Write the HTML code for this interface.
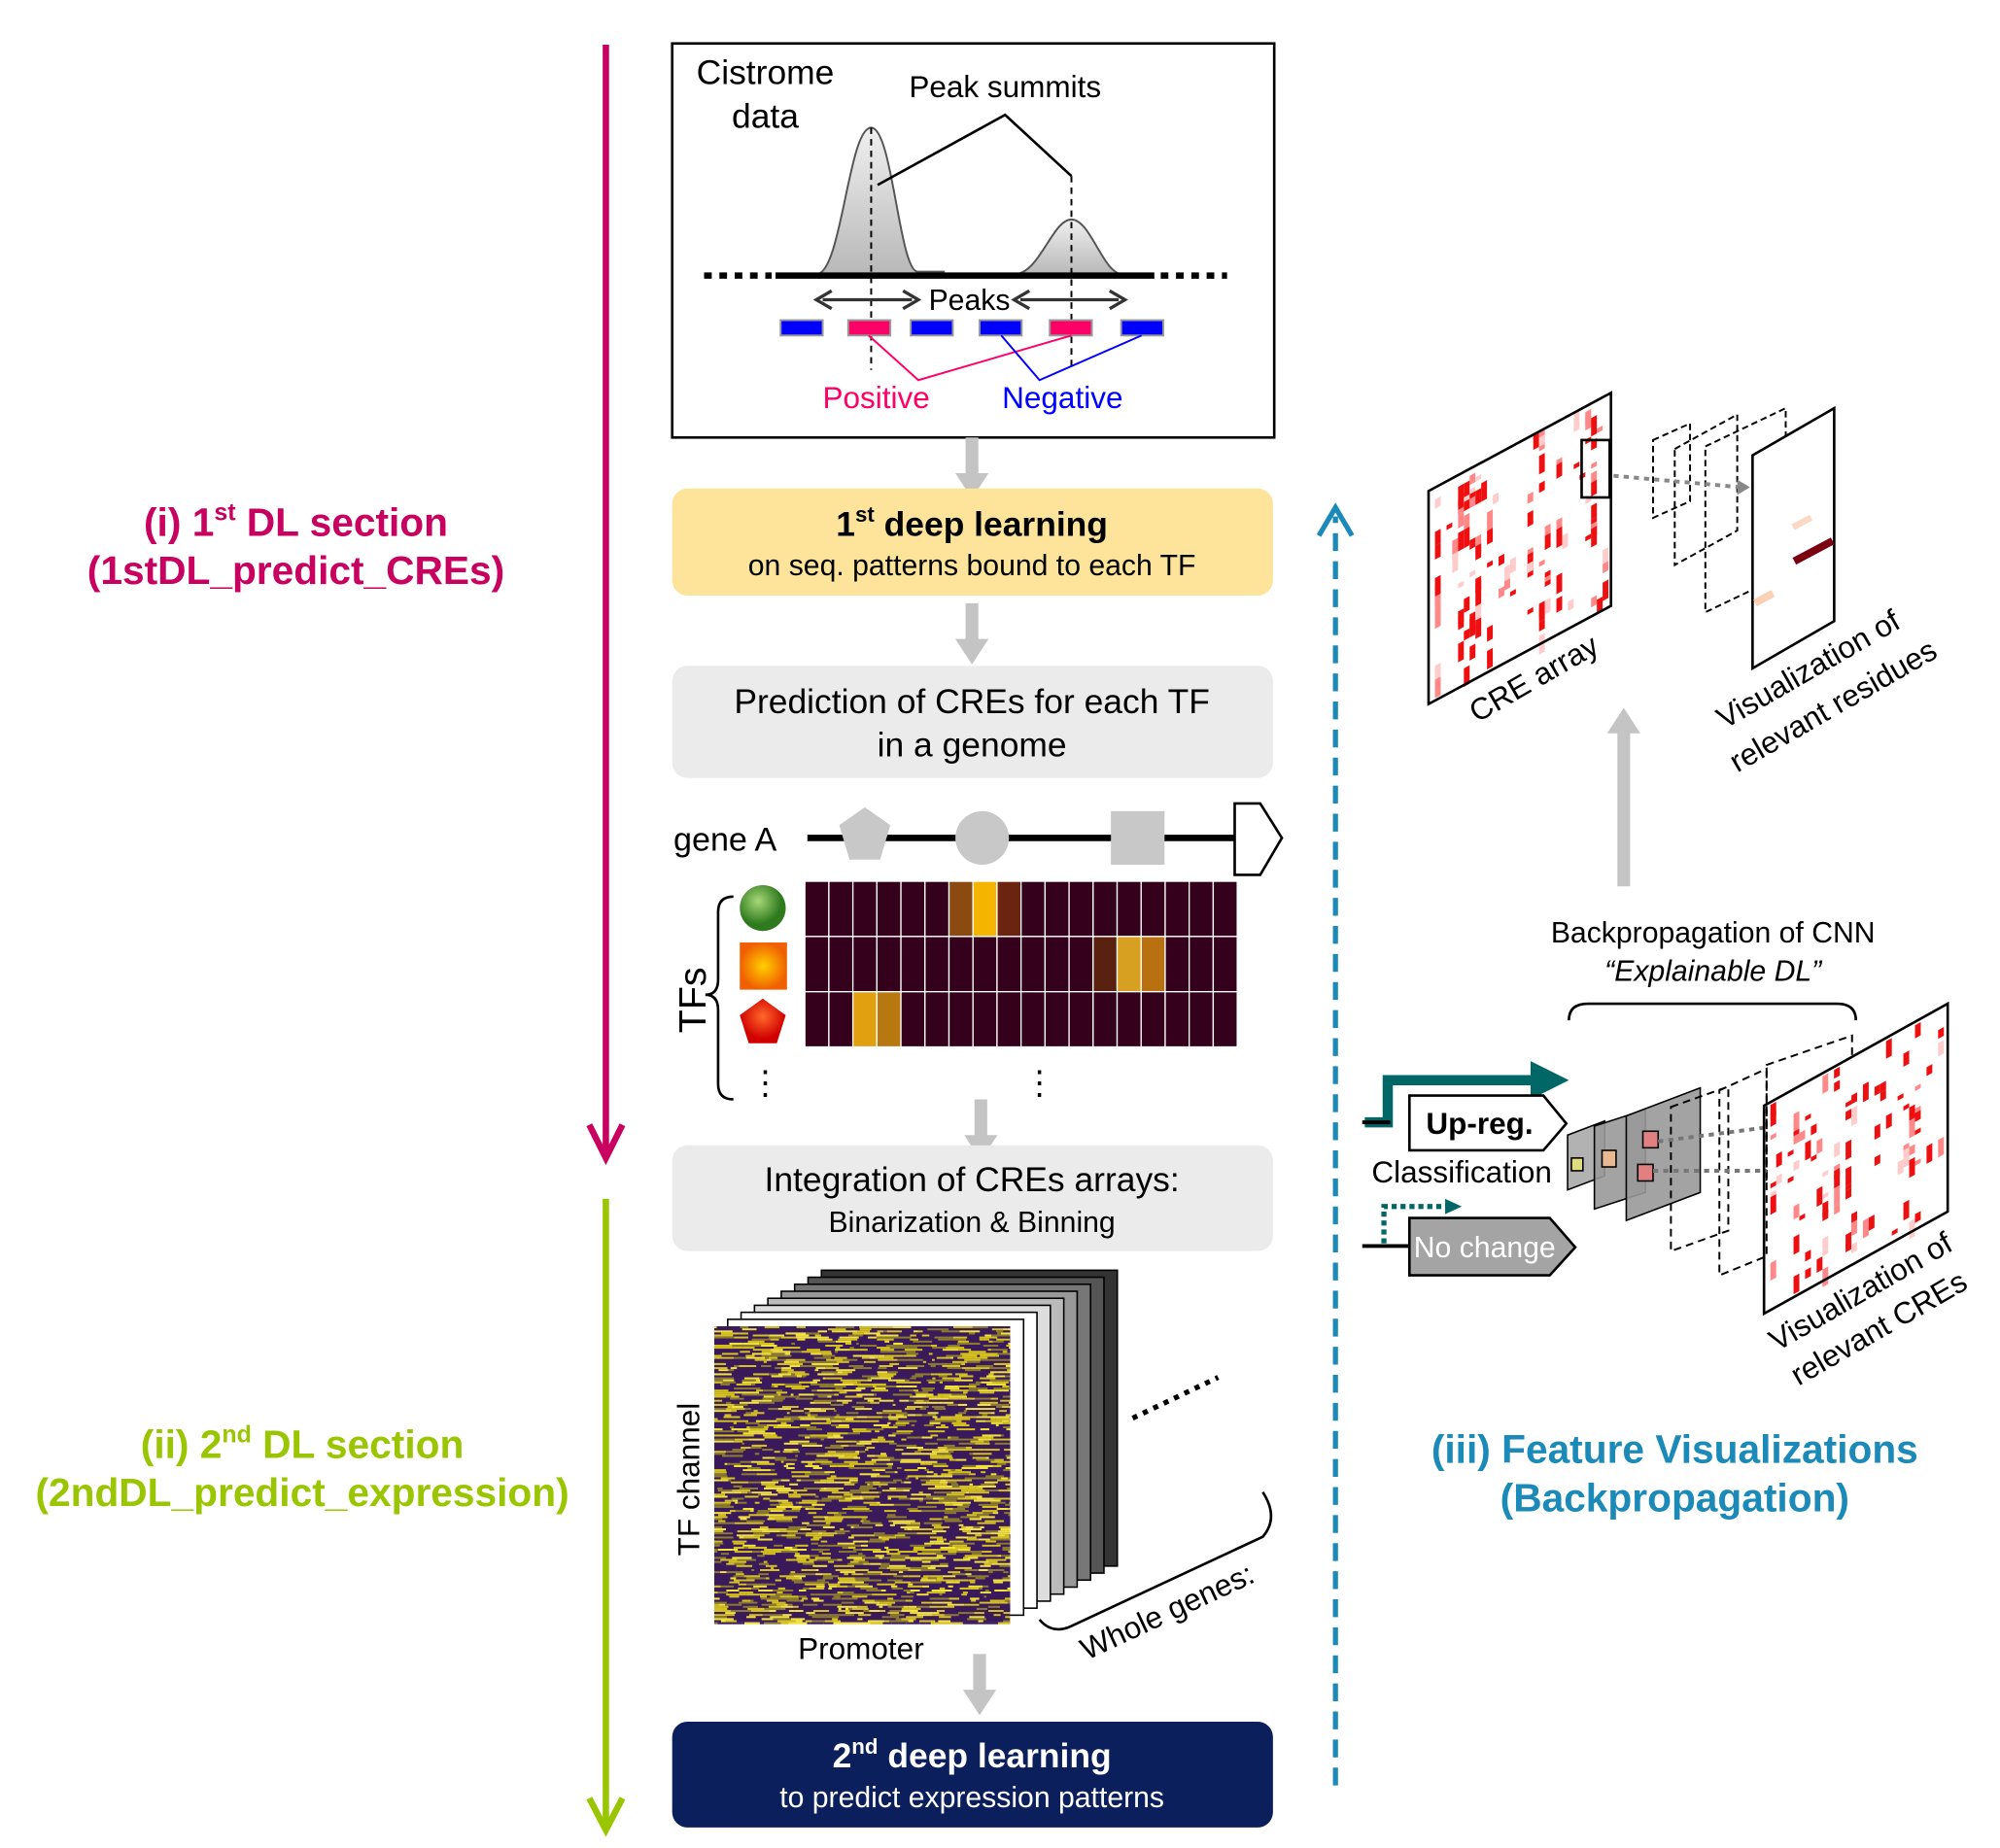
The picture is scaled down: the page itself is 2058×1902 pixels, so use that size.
<!DOCTYPE html>
<html><head><meta charset="utf-8"><style>html,body{margin:0;padding:0;background:#fff}svg{display:block}text{font-family:"Liberation Sans",Arial,sans-serif}</style></head>
<body>
<svg id="s" width="2058" height="1902" viewBox="0 0 1568 1449" xmlns="http://www.w3.org/2000/svg">
<defs>
<radialGradient id="gg" cx="40%" cy="35%"><stop offset="0" stop-color="#a8d878"/><stop offset="1" stop-color="#2f7a1e"/></radialGradient>
<radialGradient id="og" cx="50%" cy="50%"><stop offset="0" stop-color="#ffd000"/><stop offset="1" stop-color="#f06000"/></radialGradient>
<radialGradient id="rg" cx="50%" cy="40%"><stop offset="0" stop-color="#ff6a2a"/><stop offset="1" stop-color="#d00000"/></radialGradient>
<linearGradient id="pk" x1="0" y1="0" x2="0" y2="1"><stop offset="0" stop-color="#f0f0f0"/><stop offset="1" stop-color="#b8b8b8"/></linearGradient>
</defs>
<line x1="475" y1="35" x2="475" y2="905" stroke="#c8005f" stroke-width="5"/>
<polyline points="462,882 475,908 488,882" fill="none" stroke="#c8005f" stroke-width="5"/>
<line x1="475" y1="940" x2="475" y2="1432" stroke="#99c600" stroke-width="5"/>
<polyline points="462,1410 475,1435 488,1410" fill="none" stroke="#99c600" stroke-width="5"/>
<g font-weight="bold" font-size="31" text-anchor="middle">
<text x="232" y="420" fill="#c8005f">(i) 1<tspan font-size="19" dy="-12">st</tspan><tspan dy="12"> DL section</tspan></text>
<text x="232" y="458" fill="#c8005f">(1stDL_predict_CREs)</text>
<text x="237" y="1143" fill="#99c600">(ii) 2<tspan font-size="19" dy="-12">nd</tspan><tspan dy="12"> DL section</tspan></text>
<text x="237" y="1181" fill="#99c600">(2ndDL_predict_expression)</text>
<text x="1313" y="1147" fill="#1b8ab8">(iii) Feature Visualizations</text>
<text x="1313" y="1185" fill="#1b8ab8">(Backpropagation)</text>
</g>
<rect x="527" y="34" width="472" height="309" fill="#fff" stroke="#000" stroke-width="2"/>
<text x="600" y="66" font-size="27" text-anchor="middle">Cistrome</text>
<text x="600" y="100" font-size="27" text-anchor="middle">data</text>
<text x="788" y="76" font-size="24" text-anchor="middle">Peak summits</text>
<path d="M640,215 C660,215 665,100 683,100 C700,100 705,215 720,213 L740,213 L740,215 Z" fill="url(#pk)" stroke="#555" stroke-width="1.5"/>
<path d="M795,215 C815,215 825,172 840,172 C855,172 865,215 880,215 Z" fill="url(#pk)" stroke="#555" stroke-width="1.5"/>
<polyline points="688,145 788,90 840,138" fill="none" stroke="#000" stroke-width="2"/>
<line x1="683" y1="100" x2="683" y2="290" stroke="#000" stroke-width="1.5" stroke-dasharray="5,4"/>
<line x1="840" y1="138" x2="840" y2="290" stroke="#000" stroke-width="1.5" stroke-dasharray="5,4"/>
<line x1="608" y1="216" x2="905" y2="216" stroke="#000" stroke-width="5"/>
<line x1="552" y1="216" x2="605" y2="216" stroke="#000" stroke-width="5" stroke-dasharray="6,6"/>
<line x1="910" y1="216" x2="962" y2="216" stroke="#000" stroke-width="5" stroke-dasharray="6,6"/>
<g stroke="#333" stroke-width="2.5" fill="#333">
<line x1="645" y1="235" x2="715" y2="235"/><polyline points="652,228 640,235 652,242" fill="none"/><polyline points="708,228 720,235 708,242" fill="none"/>
<line x1="800" y1="235" x2="877" y2="235"/><polyline points="807,228 795,235 807,242" fill="none"/><polyline points="870,228 882,235 870,242" fill="none"/>
</g>
<text x="760" y="243" font-size="23" text-anchor="middle">Peaks</text>
<g stroke="#999" stroke-width="1.5">
<rect x="612" y="251" width="33" height="12" fill="#0000ff"/><rect x="665" y="251" width="33" height="12" fill="#ff0066"/>
<rect x="714" y="251" width="33" height="12" fill="#0000ff"/><rect x="768" y="251" width="33" height="12" fill="#0000ff"/>
<rect x="823" y="251" width="33" height="12" fill="#ff0066"/><rect x="879" y="251" width="33" height="12" fill="#0000ff"/>
</g>
<polyline points="681,263 720,298 840,263" fill="none" stroke="#ff0066" stroke-width="1.5"/>
<polyline points="785,263 815,298 895,263" fill="none" stroke="#0000ff" stroke-width="1.5"/>
<text x="687" y="320" font-size="24" fill="#ff0066" text-anchor="middle">Positive</text>
<text x="833" y="320" font-size="24" fill="#0000ff" text-anchor="middle">Negative</text>
<g fill="#c4c4c4">
<path d="M757,343h10v28h8l-13,20l-13,-20h8z"/>
<path d="M757,473h10v28h8l-13,20l-13,-20h8z"/>
<path d="M764,862h10v28h8l-13,20l-13,-20h8z"/>
<path d="M763,1297h10v28h8l-13,20l-13,-20h8z"/>
<path d="M1268,695h10v-120h8l-13,-20l-13,20h8z"/>
</g>
<rect x="527" y="383" width="471" height="84" rx="12" fill="#fde49a"/>
<text x="762" y="420" font-size="27" font-weight="bold" text-anchor="middle">1<tspan font-size="17" dy="-11">st</tspan><tspan dy="11"> deep learning</tspan></text>
<text x="762" y="451" font-size="23" text-anchor="middle">on seq. patterns bound to each TF</text>
<rect x="527" y="522" width="471" height="88" rx="12" fill="#ebebeb"/>
<text x="762" y="559" font-size="27" text-anchor="middle">Prediction of CREs for each TF</text>
<text x="762" y="593" font-size="27" text-anchor="middle">in a genome</text>
<text x="528" y="667" font-size="26">gene A</text>
<line x1="633" y1="657" x2="968" y2="657" stroke="#000" stroke-width="5"/>
<polygon points="678,633 698,647 690,674 666,674 658,647" fill="#c8c8c8"/>
<circle cx="770" cy="657" r="21" fill="#c8c8c8"/>
<rect x="871" y="636" width="42" height="42" fill="#c8c8c8"/>
<polygon points="968,630 988,630 1005,657 988,686 968,686" fill="#fff" stroke="#000" stroke-width="2"/>
<path d="M575,703 Q563,703 563,715 L563,768 Q563,780 553,780 Q563,780 563,792 L563,850 Q563,862 575,862" fill="none" stroke="#000" stroke-width="2"/>
<text x="0" y="0" font-size="30" transform="translate(553,810) rotate(-90)">TFs</text>
<circle cx="598" cy="712" r="18" fill="url(#gg)"/>
<rect x="580" y="739" width="37" height="37" fill="url(#og)"/>
<polygon points="598,783 616,796 609,818 587,818 580,796" fill="url(#rg)"/>
<text x="600" y="858" font-size="26" text-anchor="middle">⋮</text>
<text x="815" y="858" font-size="26" text-anchor="middle">⋮</text>
<g id="hm"></g>
<rect x="527" y="898" width="471" height="83" rx="12" fill="#ebebeb"/>
<text x="762" y="934" font-size="27" text-anchor="middle">Integration of CREs arrays:</text>
<text x="762" y="966" font-size="23" text-anchor="middle">Binarization &amp; Binning</text>
<g id="stk"></g>
<text x="0" y="0" font-size="24" transform="translate(548,1220) rotate(-90)">TF channel</text>
<text x="675" y="1301" font-size="24" text-anchor="middle">Promoter</text>
<line x1="888" y1="1112" x2="955" y2="1080" stroke="#000" stroke-width="4" stroke-dasharray="4,5"/>
<path d="M990,1170 Q1003,1190 990,1205 L840,1275 Q825,1282 815,1270" fill="none" stroke="#000" stroke-width="2"/>
<text x="0" y="0" font-size="24" transform="translate(852,1302) rotate(-25)">Whole genes:</text>
<rect x="527" y="1350" width="471" height="83" rx="12" fill="#0b1f5c"/>
<text x="762" y="1386" font-size="27" font-weight="bold" fill="#fff" text-anchor="middle">2<tspan font-size="17" dy="-11">nd</tspan><tspan dy="11"> deep learning</tspan></text>
<text x="762" y="1417" font-size="23" fill="#fff" text-anchor="middle">to predict expression patterns</text>
<line x1="1047" y1="1400" x2="1047" y2="405" stroke="#1b8ab8" stroke-width="4" stroke-dasharray="14,8"/>
<polyline points="1034,420 1047,398 1060,420" fill="none" stroke="#1b8ab8" stroke-width="4"/>
<g id="cre1"></g>
<polygon points="1120,385 1263,308 1263,475 1120,552" fill="none" stroke="#000" stroke-width="2"/>
<rect x="1240" y="345" width="22" height="45" fill="none" stroke="#000" stroke-width="2"/>
<g fill="none" stroke="#000" stroke-width="1.5" stroke-dasharray="5,3">
<polygon points="1296,345 1325,332 1325,393 1296,406"/>
<polygon points="1313,352 1362,325 1362,416 1313,443"/>
<polygon points="1337,350 1400,320 1400,450 1337,480"/>
</g>
<polygon points="1374,357 1438,320 1438,487 1374,524" fill="#fff" stroke="#000" stroke-width="2"/>
<rect x="1405" y="407" width="16" height="5" fill="#fcd9c4" transform="rotate(-28 1413 410)"/>
<rect x="1405" y="430" width="34" height="6" fill="#7a0010" transform="rotate(-28 1420 433)"/>
<rect x="1375" y="466" width="16" height="6" fill="#fcd0b4" transform="rotate(-28 1383 469)"/>
<line x1="1265" y1="373" x2="1365" y2="382" stroke="#888" stroke-width="3" stroke-dasharray="4,4"/>
<polygon points="1362,376 1372,382 1362,388" fill="#888"/>
<text x="0" y="0" font-size="24" transform="translate(1158,567) rotate(-30)">CRE array</text>
<text x="0" y="0" font-size="24" transform="translate(1352,572) rotate(-30)">Visualization of</text>
<text x="0" y="0" font-size="24" transform="translate(1362,606) rotate(-30)">relevant residues</text>
<text x="1343" y="739" font-size="23" text-anchor="middle">Backpropagation of CNN</text>
<text x="1343" y="769" font-size="23" font-style="italic" text-anchor="middle">“Explainable DL”</text>
<path d="M1230,800 Q1230,787 1245,787 L1440,787 Q1455,787 1455,800" fill="none" stroke="#000" stroke-width="2"/>
<polyline points="1070,880 1088,880 1088,847 1205,847" fill="none" stroke="#006666" stroke-width="8"/>
<polygon points="1200,832 1230,847 1200,862" fill="#006666"/>
<polygon points="1105,859 1210,859 1228,881 1210,902 1105,902" fill="#fff" stroke="#000" stroke-width="2"/>
<text x="1160" y="889" font-size="24" font-weight="bold" text-anchor="middle">Up-reg.</text>
<text x="1146" y="927" font-size="24" text-anchor="middle">Classification</text>
<polyline points="1085,975 1085,946 1135,946" fill="none" stroke="#006666" stroke-width="4" stroke-dasharray="4,3"/>
<polygon points="1133,940 1146,946 1133,952" fill="#006666"/>
<line x1="1068" y1="977" x2="1105" y2="977" stroke="#000" stroke-width="3"/>
<line x1="1068" y1="880" x2="1090" y2="880" stroke="#000" stroke-width="3"/>
<polygon points="1105,955 1215,955 1235,978 1215,1000 1105,1000" fill="#a4a4a4" stroke="#000" stroke-width="2"/>
<text x="1164" y="986" font-size="23" fill="#fff" text-anchor="middle">No change</text>
<g stroke="#000" stroke-width="1.2">
<polygon points="1229,890 1258,879 1258,922 1229,933" fill="#aaa" fill-opacity=".9"/>
<polygon points="1250,883 1290,870 1290,935 1250,948" fill="#999" fill-opacity=".9"/>
<polygon points="1275,875 1333,853 1333,935 1275,957" fill="#999" fill-opacity=".9"/>
<rect x="1232" y="908" width="9" height="10" fill="#dede80"/>
<rect x="1256" y="902" width="11" height="13" fill="#e8b890"/>
<rect x="1288" y="887" width="12" height="13" fill="#e08080"/>
<rect x="1284" y="913" width="12" height="13" fill="#e08080"/>
</g>
<g fill="none" stroke="#000" stroke-width="1.5" stroke-dasharray="6,4">
<polygon points="1310,868 1355,852 1355,965 1310,981"/>
<polygon points="1348,855 1385,838 1385,985 1348,1000"/>
<polygon points="1385,835 1452,812 1452,900 1385,925"/>
</g>
<line x1="1300" y1="895" x2="1385" y2="884" stroke="#777" stroke-width="3" stroke-dasharray="4,4"/>
<line x1="1296" y1="918" x2="1385" y2="918" stroke="#777" stroke-width="3" stroke-dasharray="4,4"/>
<g id="cre2"></g>
<polygon points="1383,867 1527,787 1527,950 1383,1030" fill="none" stroke="#000" stroke-width="2"/>
<text x="0" y="0" font-size="24" transform="translate(1393,1060) rotate(-30)">Visualization of</text>
<text x="0" y="0" font-size="24" transform="translate(1410,1087) rotate(-30)">relevant CREs</text>
</svg>
<script>
var NS="http://www.w3.org/2000/svg";
function R(p,x,y,w,h,f){var r=document.createElementNS(NS,"rect");r.setAttribute("x",x);r.setAttribute("y",y);r.setAttribute("width",w);r.setAttribute("height",h);r.setAttribute("fill",f);p.appendChild(r);return r;}
var seed=7;function rnd(){seed=(seed*16807)%2147483647;return seed/2147483647;}
var hm=document.getElementById("hm");
var cw=339/18, hi={0:{6:"#8a4a10",7:"#f4b400",8:"#6a2410"},1:{12:"#5a2010",13:"#d8a020",14:"#b87010"},2:{2:"#e0a010",3:"#b87810"}};
for(var r=0;r<3;r++)for(var c=0;c<18;c++){var f=(hi[r][c])||"#35001c";var e=R(hm,631+c*cw,691+r*43.3,cw,43.3,f);e.setAttribute("stroke","#fff");e.setAttribute("stroke-width","1");}
var st=document.getElementById("stk");
var grays=["#333","#555","#777","#999","#bbb","#ddd","#fff","#fff","#fff"];
for(var i=8;i>=1;i--){var ox=560+i*10.5,oy=1040-i*5.5;var e=R(st,ox,oy,232,232,grays[8-i]);e.setAttribute("stroke","#000");e.setAttribute("stroke-width","1.2");}
R(st,560,1040,232,232,"#3a1a5a");
for(var y=0;y<232;y+=1.6){var x=0;while(x<232){var w=2+rnd()*14;var v=rnd();var col=v<0.55?"#3a1a5a":(v<0.72?"#d4c020":(v<0.88?"#8a7a30":"#f0e040"));R(st,560+x,1040+y,Math.min(w,232-x),1.6,col);x+=w;}}
function cre(id,pts,seedv,nc,nr){seed=seedv;var g=document.getElementById(id);var pl=document.createElementNS(NS,"polygon");pl.setAttribute("points",pts.join(" "));pl.setAttribute("fill","#fff");g.appendChild(pl);
var x0=pts[0],y0=pts[1],x1=pts[2],y1=pts[3],h=pts[5]-pts[3];var W=x1-x0,sk=(y1-y0)/W;
var gg=document.createElementNS(NS,"g");gg.setAttribute("transform","matrix(1,"+sk+",0,1,"+x0+","+y0+")");g.appendChild(gg);
var cwid=W/nc,rh=h/nr;for(var c=0;c<nc;c++){var dens=rnd()<0.4?0.16:0.04;for(var r=0;r<nr;r++){if(rnd()<dens){var v=rnd();R(gg,c*cwid+1,r*rh,cwid,rh*(1+Math.floor(rnd()*4)),v<0.6?"#ee1010":(v<0.8?"#f88":"#fcc"));}}}}
cre("cre1",[1124,385,1260,310,1260,473,1124,548],11,30,45);
cre("cre2",[1387,867,1523,792,1523,947,1387,1024],23,30,45);
</script>
</body></html>
